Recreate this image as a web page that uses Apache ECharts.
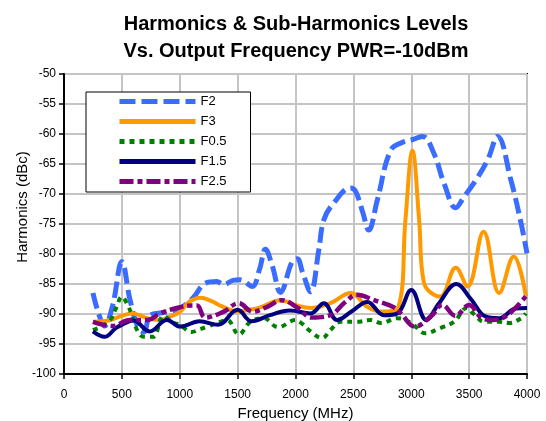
<!DOCTYPE html>
<html>
<head>
<meta charset="utf-8">
<script src="https://cdn.jsdelivr.net/npm/echarts@6/dist/echarts.min.js"></script>
<style>
  html, body { margin: 0; padding: 0; background: #fff; }
  #chart { width: 546px; height: 421px; }
</style>
</head>
<body>
<div id="chart"></div>
<script>
// Frequency (MHz) and level (dBc) per series
var f2Freq = [250, 300, 350, 420, 500, 570, 640, 690, 745, 850, 920, 1004, 1060, 1120, 1220, 1320, 1380, 1460, 1524, 1625, 1690, 1740, 1800, 1870, 1970, 2015, 2060, 2130, 2200, 2245, 2330, 2476, 2520, 2580, 2632, 2707, 2823, 2935, 3000, 3097, 3195, 3283, 3385, 3455, 3558, 3660, 3746, 3861, 3948, 4000];
var f2Vals = [-86.5, -90, -92, -88.6, -81.3, -87.6, -92.3, -93, -90.2, -89.8, -89.6, -89, -88.3, -87.2, -84.9, -84.6, -85.1, -84.4, -84.3, -85.4, -82.5, -79.2, -82, -86.4, -81.3, -80.8, -83, -86.3, -79.5, -74.3, -71.5, -69, -69.6, -73, -76, -71, -62.7, -61.3, -61, -60.4, -63.2, -68.2, -72.3, -70.5, -67.7, -64.3, -60.4, -67.7, -74.8, -79.9];

var f3Freq = [250, 400, 500, 590, 720, 820, 920, 1004, 1080, 1177, 1280, 1350, 1510, 1600, 1697, 1870, 2000, 2130, 2303, 2476, 2620, 2736, 2890, 2950, 3010, 3068, 3110, 3250, 3385, 3486, 3625, 3760, 3885, 3991];
var f3Vals = [-91.3, -91, -90.3, -89.9, -90.7, -91, -90.4, -89.6, -88, -87.3, -87.9, -88.6, -89.6, -89.3, -88.9, -87.7, -88.5, -89, -88.2, -86.5, -88.8, -89.6, -88.8, -74.3, -62.8, -74.3, -84.8, -87.1, -82.3, -85.4, -76.3, -86.5, -80.4, -87.1];

var f05Freq = [250, 330, 400, 450, 500, 550, 590, 640, 690, 770, 860, 940, 1000, 1100, 1180, 1240, 1350, 1410, 1510, 1610, 1725, 1850, 2000, 2050, 2130, 2230, 2300, 2390, 2530, 2650, 2740, 2880, 3000, 3120, 3255, 3370, 3480, 3540, 3630, 3750, 3850, 3950, 3990];
var f05Vals = [-92.7, -92, -91, -89, -87.1, -88.5, -90.4, -93, -93.8, -93.8, -90.3, -91.4, -91.8, -93, -92.5, -92.1, -91.3, -91, -93.4, -91.3, -90.7, -92.2, -91, -91.5, -92.9, -94, -92.7, -91.3, -91.3, -91, -91.5, -90.7, -91.5, -93.2, -92.3, -91.3, -89, -90, -91.3, -91.3, -91.5, -90.7, -89.9];

var f15Freq = [250, 350, 450, 500, 600, 740, 890, 1004, 1170, 1330, 1500, 1620, 1780, 1950, 2130, 2245, 2360, 2490, 2620, 2765, 2880, 3000, 3130, 3240, 3390, 3515, 3640, 3760, 3900, 4000];
var f15Vals = [-92.9, -93.8, -92.3, -91.8, -91.1, -92.9, -91, -92.1, -91.2, -91.8, -89.3, -91.2, -90.2, -89.4, -89.9, -88.2, -91, -89.5, -88, -90.2, -89.9, -86, -91, -88.2, -85, -87.5, -90.4, -90.7, -89.1, -89];

var f25Freq = [250, 420, 570, 720, 830, 975, 1100, 1150, 1220, 1380, 1510, 1630, 1755, 1880, 2020, 2140, 2300, 2430, 2530, 2680, 2840, 2910, 3030, 3170, 3270, 3380, 3500, 3610, 3700, 3830, 4000];
var f25Vals = [-91.3, -92, -91, -91, -89.9, -89, -88.6, -88.6, -90.6, -89.6, -88.2, -89.6, -88.8, -87.7, -89, -90.6, -90.2, -88, -86.8, -87.7, -88.8, -89.9, -92.1, -90.4, -88.5, -90.3, -88.5, -90.7, -91, -90.2, -86.8];

var seriesNames = ['F2', 'F3', 'F0.5', 'F1.5', 'F2.5'];

document.addEventListener('DOMContentLoaded', function () {
  var font = 'Liberation Sans';

  function pairs(xs, ys) {
    return xs.map(function (x, i) { return [x, ys[i]]; });
  }

  function makeSeries(name, data, color, width, dash) {
    return {
      name: name,
      type: 'line',
      data: data,
      smooth: 0.4,
      symbol: 'none',
      lineStyle: { color: color, width: width, type: dash },
      itemStyle: { color: color }
    };
  }

  var chart = echarts.init(document.getElementById('chart'));
  var option = {
    animation: false,
    backgroundColor: '#fff',
    title: {
      text: 'Harmonics & Sub-Harmonics Levels\nVs. Output Frequency PWR=-10dBm',
      left: 291,
      top: 6,
      textAlign: 'center',
      textStyle: { fontFamily: font, fontSize: 20, fontWeight: 'bold', color: '#000', lineHeight: 27 }
    },
    legend: {
      orient: 'vertical',
      left: 86,
      top: 92,
      data: seriesNames,
      itemWidth: 76,
      itemHeight: 14,
      itemGap: 7,
      padding: [3, 24, 4, 31],
      backgroundColor: '#fff',
      borderColor: '#000',
      borderWidth: 1,
      itemStyle: { opacity: 0 },
      lineStyle: { width: 5 },
      textStyle: { fontFamily: font, fontSize: 13, color: '#000' }
    },
    grid: {
      left: 64, right: 19, top: 74, bottom: 47,
      outerBoundsMode: 'none',
      show: true, borderColor: '#000', borderWidth: 2
    },
    xAxis: {
      type: 'value',
      min: 0, max: 4000, interval: 500,
      name: 'Frequency (MHz)',
      nameLocation: 'middle',
      nameGap: 26,
      nameTextStyle: { fontFamily: font, fontSize: 15, color: '#000' },
      axisLine: { lineStyle: { color: '#000', width: 2 } },
      axisTick: { show: true, length: 5, lineStyle: { color: '#000', width: 1.5 } },
      axisLabel: { fontFamily: font, fontSize: 12, color: '#000', margin: 15, formatter: function (v) { return String(v); } },
      splitLine: { show: true, lineStyle: { color: '#c4c4c4', width: 2 } }
    },
    yAxis: {
      type: 'value',
      min: -100, max: -50, interval: 5,
      name: 'Harmonics (dBc)',
      nameLocation: 'middle',
      nameGap: 34,
      nameMoveOverlap: false,
      nameTextStyle: { fontFamily: font, fontSize: 15, color: '#000', padding: [0, 0, 0, 34] },
      axisLine: { show: true, lineStyle: { color: '#000', width: 2 } },
      axisTick: { show: true, length: 5, lineStyle: { color: '#000', width: 1.5 } },
      axisLabel: { fontFamily: font, fontSize: 12, color: '#000', margin: 8 },
      splitLine: { show: true, lineStyle: { color: '#c4c4c4', width: 2 } }
    },
    series: [
      makeSeries('F2', pairs(f2Freq, f2Vals), '#3a6cff', 5, [16, 6]),
      makeSeries('F3', pairs(f3Freq, f3Vals), '#ff9900', 4, 'solid'),
      makeSeries('F0.5', pairs(f05Freq, f05Vals), '#008000', 4, [5, 5]),
      makeSeries('F1.5', pairs(f15Freq, f15Vals), '#000080', 4, 'solid'),
      makeSeries('F2.5', pairs(f25Freq, f25Vals), '#800080', 4.5, [14, 4, 5, 4])
    ]
  };
  chart.setOption(option);
});
</script>
</body>
</html>
